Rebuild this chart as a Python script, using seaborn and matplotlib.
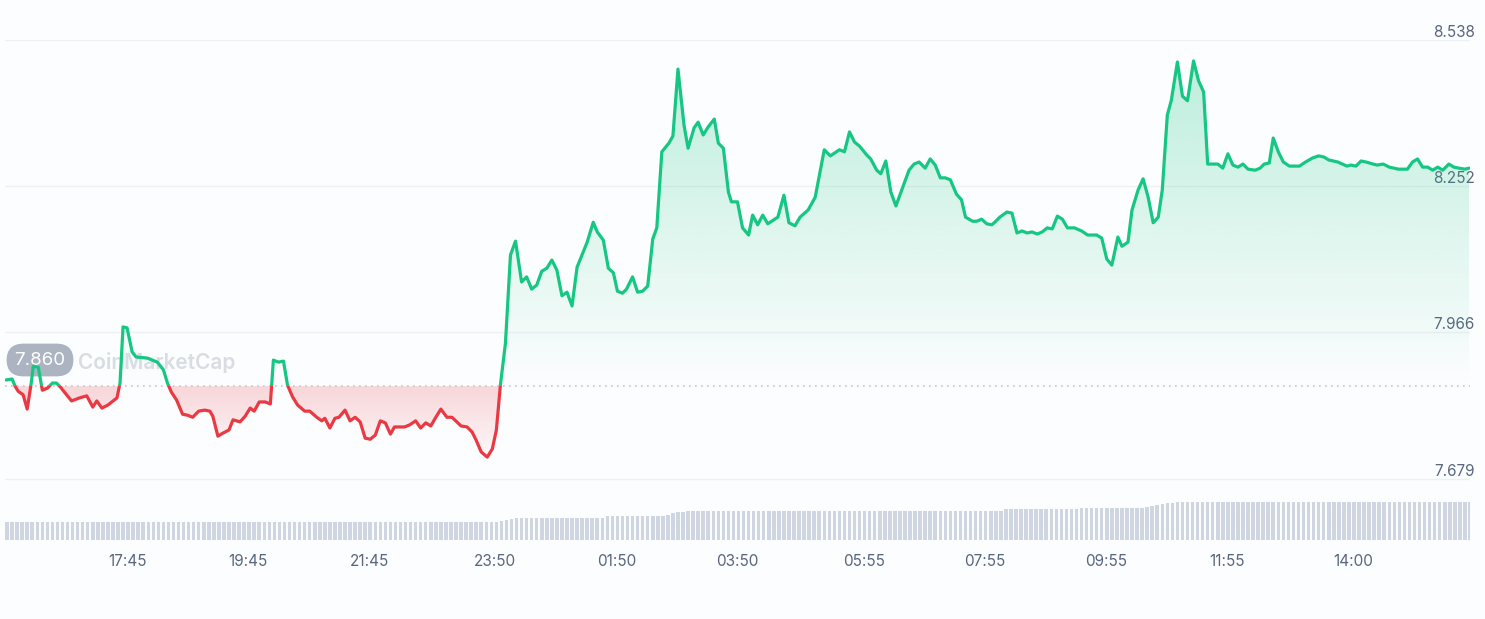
import numpy as np
import matplotlib
matplotlib.use("Agg")
import matplotlib.pyplot as plt
import seaborn as sns
from matplotlib.patches import Polygon, Rectangle
from matplotlib.colors import to_rgb

# ---------------- data (minutes since 15:44) ----------------
minutes = [
    1, 7, 10, 13, 18, 22, 26, 28, 33, 37, 42, 47, 51, 55, 59, 66, 74, 81, 87, 91,
    96, 102, 111, 114, 117, 121, 126, 130, 141, 151, 157, 161, 165, 170, 176, 181, 186, 192, 198, 203,
    206, 211, 216, 222, 226, 233, 238, 243,
    247, 252, 258, 263, 266, 271, 276, 280, 285, 290, 297, 302, 309, 314, 317, 322, 327, 331, 337, 342,
    347, 352, 357, 362, 367, 372, 377, 382, 386, 396, 401, 407, 412, 417, 422, 427, 432, 438, 443, 452,
    458, 463, 467, 472, 478, 483, 487, 491,
    496, 501, 506, 512, 517, 522, 527, 532, 537, 542, 547, 552, 557, 562, 567, 577, 583, 587, 593, 598,
    603, 607, 612, 616, 622, 627, 632, 637, 642, 646, 651, 658, 662, 667, 673, 677, 683, 687, 692, 697,
    703, 707, 712, 717, 720, 726, 731,
    737, 741, 746, 751, 756, 766, 772, 777, 783, 788, 796, 803, 812, 818, 827, 832, 837, 842, 847, 854,
    858, 864, 868, 873, 878, 883, 888, 896, 901, 906, 912, 917, 922, 927, 932, 937, 943, 948, 952, 959,
    963, 968, 973, 978, 981,
    986, 993, 998, 1003, 1008, 1013, 1018, 1023, 1028, 1033, 1038, 1043, 1048, 1053, 1060, 1067, 1073, 1082,
    1087, 1092, 1097, 1103, 1107, 1113, 1117, 1123, 1128, 1133, 1138, 1143, 1147, 1152, 1156, 1162, 1167,
    1172, 1178, 1183, 1188, 1192, 1197, 1202, 1207, 1212, 1217, 1222, 1227,
    1232, 1239, 1244, 1248, 1253, 1257, 1262, 1267, 1273, 1283, 1289, 1296, 1302, 1307, 1312, 1321, 1330,
    1334, 1339, 1344, 1349, 1356, 1360, 1366, 1372, 1381, 1390, 1395, 1400, 1405, 1410, 1415, 1420, 1425,
    1431, 1436, 1441, 1447, 1451,
]
price = [
    7.872, 7.874, 7.860, 7.850, 7.843, 7.815, 7.866, 7.899, 7.897, 7.852, 7.856, 7.866, 7.866, 7.858, 7.848, 7.831, 7.837, 7.841, 7.819, 7.831,
    7.817, 7.823, 7.837, 7.866, 7.976, 7.974, 7.927, 7.917, 7.915, 7.907, 7.892, 7.866, 7.848, 7.833, 7.805, 7.803, 7.799, 7.811, 7.813, 7.811,
    7.801, 7.762, 7.768, 7.774, 7.794, 7.790, 7.801, 7.817,
    7.811, 7.829, 7.829, 7.825, 7.911, 7.907, 7.909, 7.862, 7.839, 7.823, 7.811, 7.811, 7.799, 7.792, 7.797, 7.778, 7.797, 7.799, 7.813, 7.792,
    7.799, 7.790, 7.758, 7.756, 7.764, 7.792, 7.788, 7.766, 7.780, 7.780, 7.784, 7.792, 7.778, 7.788, 7.782, 7.799, 7.815, 7.799, 7.799, 7.782,
    7.780, 7.770, 7.754, 7.731, 7.721, 7.737, 7.774, 7.862,
    7.944, 8.117, 8.144, 8.064, 8.074, 8.050, 8.058, 8.085, 8.091, 8.107, 8.087, 8.037, 8.044, 8.017, 8.093, 8.142, 8.181, 8.162, 8.146, 8.091,
    8.082, 8.046, 8.042, 8.050, 8.074, 8.044, 8.046, 8.056, 8.148, 8.170, 8.319, 8.336, 8.350, 8.481, 8.371, 8.326, 8.366, 8.377, 8.352, 8.368,
    8.383, 8.336, 8.326, 8.240, 8.221, 8.221, 8.170,
    8.156, 8.195, 8.176, 8.195, 8.178, 8.191, 8.234, 8.180, 8.174, 8.191, 8.205, 8.230, 8.323, 8.311, 8.323, 8.319, 8.358, 8.338, 8.330, 8.313,
    8.305, 8.283, 8.276, 8.301, 8.240, 8.213, 8.240, 8.283, 8.295, 8.299, 8.287, 8.305, 8.293, 8.268, 8.268, 8.264, 8.236, 8.225, 8.191, 8.183,
    8.183, 8.187, 8.178, 8.176, 8.181,
    8.191, 8.201, 8.199, 8.160, 8.164, 8.160, 8.162, 8.158, 8.162, 8.170, 8.168, 8.193, 8.187, 8.170, 8.170, 8.164, 8.156, 8.156,
    8.150, 8.109, 8.097, 8.152, 8.134, 8.142, 8.205, 8.244, 8.266, 8.230, 8.180, 8.191, 8.244, 8.391, 8.420, 8.495, 8.428,
    8.419, 8.497, 8.458, 8.436, 8.295, 8.295, 8.295, 8.287, 8.315, 8.293, 8.289, 8.295,
    8.285, 8.283, 8.287, 8.295, 8.297, 8.346, 8.319, 8.299, 8.291, 8.291, 8.299, 8.307, 8.311, 8.309, 8.303, 8.299, 8.291,
    8.293, 8.291, 8.301, 8.299, 8.295, 8.293, 8.295, 8.289, 8.285, 8.285, 8.299, 8.305, 8.289, 8.289, 8.283, 8.289, 8.283,
    8.295, 8.289, 8.287, 8.285, 8.287,
]
baseline_price = 7.860
y_ticks = [7.679, 7.966, 8.252, 8.538]
x_tick_minutes = [121, 241, 361, 486, 606, 726, 851, 971, 1091, 1211, 1336]
x_tick_labels = ["17:45", "19:45", "21:45", "23:50", "01:50", "03:50",
                 "05:55", "07:55", "09:55", "11:55", "14:00"]
# volume per 5-minute bar (arbitrary units)
volume = [
    18, 18, 18, 18, 18, 18, 18, 18, 18, 18, 18, 18, 18, 18, 18, 18, 18, 18, 18, 18,
    18, 18, 18, 18, 18, 18, 18, 18, 18, 18, 18, 18, 18, 18, 18, 18, 18, 18, 18, 18,
    18, 18, 18, 18, 18, 18, 18, 18, 18, 18, 18, 18, 18, 18, 18, 18, 18, 18, 18, 18,
    18, 18, 18, 18, 18, 18, 18, 18, 18, 18, 18, 18, 18, 18, 18, 18, 18, 18, 18, 18,
    18, 18, 18, 18, 18, 18, 18, 18, 18, 18, 18, 18, 18, 18, 18, 18, 18, 18, 19, 20,
    21, 22, 22, 22, 22, 22, 22, 22, 22, 22, 22, 22, 22, 22, 22, 22, 22, 22, 22, 24,
    24, 24, 24, 24, 24, 24, 24, 24, 24, 24, 24, 25.5, 27, 28, 28.5, 29, 29, 29, 29, 29,
    29, 29, 29, 29, 29, 29, 29, 29, 29, 29, 29, 29, 29, 29, 29, 29, 29, 29, 29, 29,
    29, 29, 29, 29, 29, 29, 29, 29, 29, 29, 29, 29, 29, 29, 29, 29, 29, 29, 29, 29,
    29, 29, 29, 29, 29, 29, 29, 29, 29, 29, 29, 29, 29, 29, 29, 29, 29, 29, 31, 31,
    31, 31, 31, 31, 31, 31, 31, 31, 31, 31, 31, 31, 31, 32.5, 32.5, 32.5, 32.5, 32.5, 32.5, 32.5,
    32.5, 32.5, 32.5, 32.5, 32.5, 32.5, 33, 34, 35, 36, 37, 37.5, 38, 38.5, 38.5, 38.5, 38.5, 38.5, 38.5, 38.5,
    38.5, 38.5, 38.5, 38.5, 38.5, 38.5, 38.5, 38.5, 38.5, 38.5, 38.5, 38.5, 38.5, 38.5, 38.5, 38.5, 38.5, 38.5, 38.5, 38.5,
    38.5, 38.5, 38.5, 38.5, 38.5, 38.5, 38.5, 38.5, 38.5, 38.5, 38.5, 38.5, 38.5, 38.5, 38.5, 38.5, 38.5, 38.5, 38.5, 38.5,
    38.5, 38.5, 38.5, 38.5, 38.5, 38.5, 38.5, 38.5, 38.5, 38.5, 38.5,
]
volume_interval = 5

# ---------------- style ----------------
GREEN = "#16c784"
RED = "#ea3943"
BG = "#fcfdfe"
TXT = "#58667e"
GRID = "#eef0f3"
VOL = "#d0d6e1"

sns.set_theme(style="white")
plt.rcParams["font.family"] = ["Inter", "DejaVu Sans"]

W, H = 1485, 619
fig = plt.figure(figsize=(W / 100, H / 100), dpi=100, facecolor=BG)
ax = fig.add_axes([5 / W, 79 / H, 1465 / W, 500 / H])
ax.set_facecolor("none")

XMIN, XMAX = 0, 1452
YMIN, YMAX = 7.5586, 8.538

# volume bars on a twin axis (created first so the price axis keeps its right-side labels)
ax2 = ax.twinx()
vol_t = np.arange(len(volume)) * volume_interval + 2
ax2.bar(vol_t, volume, width=3.5, color=VOL, linewidth=0, zorder=1)
ax2.set_ylim(0, 500)
ax2.set_yticks([])
for s in ax2.spines.values():
    s.set_visible(False)

# gradient fills clipped to area between line and baseline
verts = [(minutes[0], baseline_price)] + list(zip(minutes, price)) + [(minutes[-1], baseline_price)]
clip_poly = Polygon(verts, closed=True, transform=ax.transData, facecolor="none", edgecolor="none")
ax.add_patch(clip_poly)

g = np.zeros((256, 1, 4))
g[..., :3] = to_rgb(GREEN)
g[:, 0, 3] = np.linspace(0.29, 0.0, 256)
im_g = ax.imshow(g, extent=[minutes[0], minutes[-1], baseline_price, YMAX], origin="upper",
                 aspect="auto", interpolation="bilinear", zorder=1)
im_g.set_clip_path(clip_poly)

r = np.zeros((256, 1, 4))
r[..., :3] = to_rgb(RED)
r[:, 0, 3] = np.linspace(0.2, 0.0, 256)
im_r = ax.imshow(r, extent=[minutes[0], minutes[-1], 7.70, baseline_price], origin="upper",
                 aspect="auto", interpolation="bilinear", zorder=1)
im_r.set_clip_path(clip_poly)

# price line, green above baseline, red below
LW = 2.3
sns.lineplot(x=minutes, y=price, ax=ax, color=GREEN, lw=LW, estimator=None, sort=False, zorder=4)
line_g = ax.lines[-1]
line_g.set_solid_joinstyle("round")
line_g.set_clip_path(Rectangle((XMIN, baseline_price), XMAX - XMIN, YMAX + 1 - baseline_price,
                               transform=ax.transData))
sns.lineplot(x=minutes, y=price, ax=ax, color=RED, lw=LW, estimator=None, sort=False, zorder=4)
line_r = ax.lines[-1]
line_r.set_solid_joinstyle("round")
line_r.set_clip_path(Rectangle((XMIN, YMIN - 1), XMAX - XMIN, baseline_price - YMIN + 1,
                               transform=ax.transData))

ax.axhline(baseline_price, color="#c3c8d1", lw=1.2, ls=(0, (1, 2.6)), zorder=3)

ax.set_xlim(XMIN, XMAX)
ax.set_ylim(YMIN, YMAX)
ax2.set_xlim(XMIN, XMAX)

# grid + ticks
ax.set_yticks(y_ticks)
ax.set_yticklabels([f"{v:.3f}" for v in y_ticks])
ax.yaxis.tick_right()
ax.tick_params(axis="y", which="both", left=False, right=True, labelleft=False, labelright=True,
               length=0, pad=3.6, labelsize=11, labelcolor=TXT)
for lab in ax.get_yticklabels():
    lab.set_ha("right")
    lab.set_va("bottom")
ax.grid(axis="y", color=GRID, lw=1.0, zorder=0)
ax.grid(axis="x", visible=False)
ax.set_xticks(x_tick_minutes)
ax.set_xticklabels(x_tick_labels)
ax.tick_params(axis="x", length=0, pad=10, labelsize=11, labelcolor=TXT)
for s in ax.spines.values():
    s.set_visible(False)
ax.set_axisbelow(True)

# watermark and baseline label
ax.text((78 - 5) / 1465, (540 - 362) / 500, "CoinMarketCap", transform=ax.transAxes,
        ha="left", va="center", fontsize=15, color="#d8dce3", fontweight="semibold", zorder=2)
ax.text((40 - 5) / 1465, (540 - 360) / 500, f"{baseline_price:.3f}", transform=ax.transAxes,
        ha="center", va="center", fontsize=13.5, color="white", zorder=3.5,
        bbox=dict(boxstyle="round,pad=0.42,rounding_size=0.9", fc="#a5aebd", ec="none", alpha=0.92))

fig.savefig("out.png", dpi=100, facecolor=BG)
